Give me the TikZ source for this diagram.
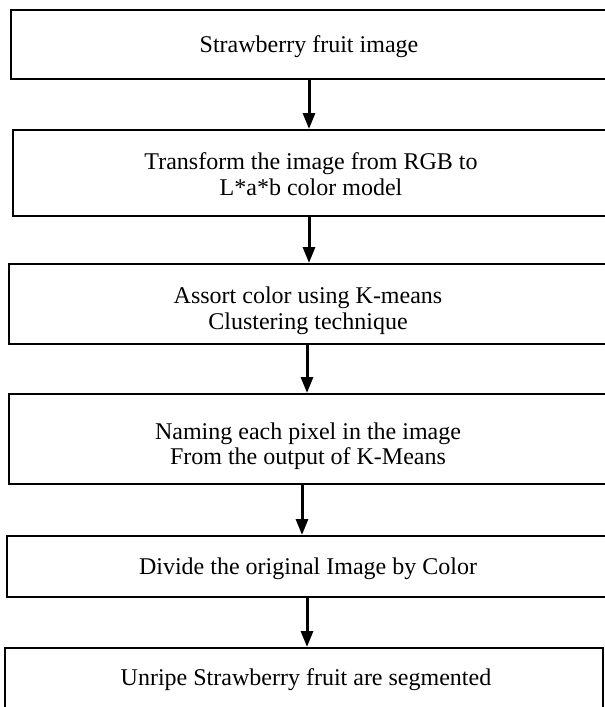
\documentclass[tikz,border=0pt]{standalone}
\usepackage{fontspec}
\setmainfont{Liberation Serif}
\usetikzlibrary{arrows.meta}
\begin{document}
\begin{tikzpicture}[x=1pt,y=-1pt,
  stepbox/.style={draw=black, line width=2pt, rectangle, inner sep=0pt},
  steptext/.style={align=center, inner sep=0pt, font=\fontsize{24}{25.5}\selectfont},
  flowarrow/.style={draw=black, line width=3pt,
    -{Triangle[width=12pt,length=16pt]}}]
\useasboundingbox (0,0) rectangle (605,707);
\clip (0,0) rectangle (605,707);
\node[stepbox, minimum width=596pt, minimum height=69pt] (b1) at (309,44.5) {};
\node[stepbox, minimum width=594pt, minimum height=86pt] (b2) at (310,173) {};
\node[stepbox, minimum width=598pt, minimum height=80pt] (b3) at (308,304) {};
\node[stepbox, minimum width=598pt, minimum height=90pt] (b4) at (308,439) {};
\node[stepbox, minimum width=600pt, minimum height=61pt] (b5) at (307,566.5) {};
\node[stepbox, minimum width=598pt, minimum height=64pt] (b6) at (304,680) {};
\node[steptext] (t1) at (309,46.5) {Strawberry fruit image};
\node[steptext] (t2) at (311,174) {Transform the image from RGB to\\L*a*b color model};
\node[steptext] (t3) at (308,311) {Assort color using K-means\\Clustering technique};
\node[steptext] (t4) at (308,446) {Naming each pixel in the image\\From the output of K-Means};
\node[steptext] (t5) at (308,568.5) {Divide the original Image by Color};
\node[steptext] (t6) at (306,680) {Unripe Strawberry fruit are segmented};
\draw[flowarrow] (b1.south) -- ([xshift=-1pt]b2.north);
\draw[flowarrow] ([xshift=-1pt]b2.south) -- ([xshift=1pt]b3.north);
\draw[flowarrow] ([xshift=-1pt]b3.south) -- ([xshift=-1pt]b3.south |- b4.north);
\draw[flowarrow] ([xshift=-6pt]b4.south) -- ([xshift=-5pt]b5.north);
\draw[flowarrow] (b5.south) -- ([xshift=3pt]b6.north);
\end{tikzpicture}
\end{document}
